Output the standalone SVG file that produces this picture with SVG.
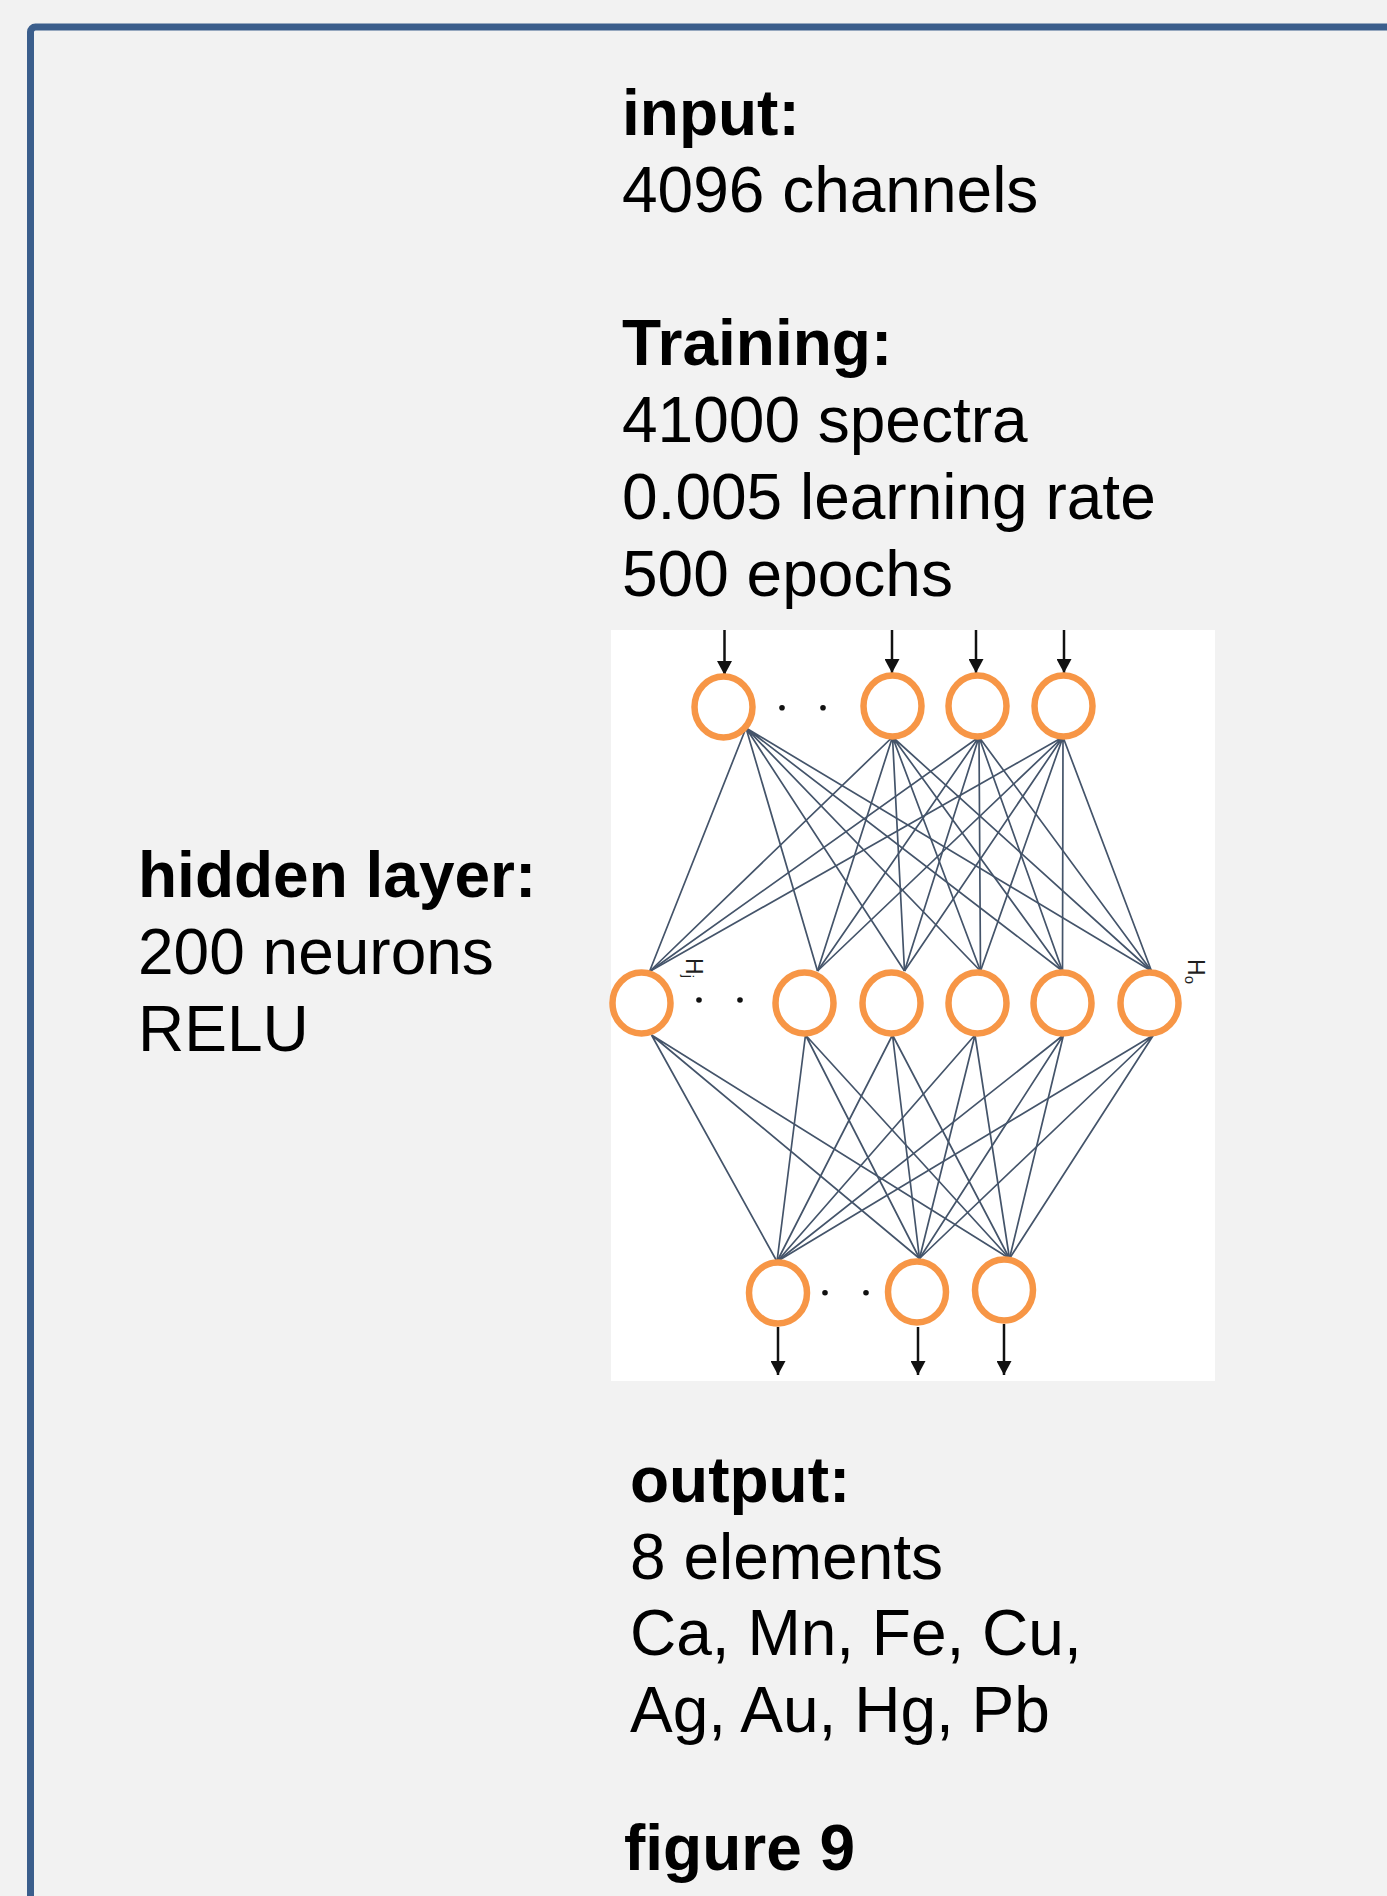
<svg xmlns="http://www.w3.org/2000/svg" width="1387" height="1896" viewBox="0 0 1387 1896">
<defs>
<style>
.t{font-family:"Liberation Sans",Arial,sans-serif;font-size:64px;fill:#000}
.b{font-weight:bold}
.n{fill:#fff;stroke:#F79646;stroke-width:6.5}
.e{stroke:#44546A;stroke-width:1.7;fill:none}
.a{stroke:#111;stroke-width:2.5;fill:none}
.d{fill:#111}
.lab{font-family:"Liberation Sans",Arial,sans-serif;font-size:23px;fill:#1f1f1f}
</style>
<marker id="arr" markerUnits="userSpaceOnUse" viewBox="0 0 14 15" markerWidth="14" markerHeight="15" refX="14" refY="7.5" orient="auto">
<path d="M0,0 L14,7.5 L0,15 Z" fill="#111"/>
</marker>
</defs>
<rect x="0" y="0" width="1387" height="1896" fill="#F2F2F2"/>
<rect x="30.5" y="27" width="1420" height="1920" rx="5" fill="none" stroke="#3B5E8C" stroke-width="7"/>

<g id="input-text">
<text class="t b" x="622" y="135">input:</text>
<text class="t" x="622" y="211.7">4096 channels</text>
</g>
<g id="training-text">
<text class="t b" x="622" y="365">Training:</text>
<text class="t" x="622" y="442">41000 spectra</text>
<text class="t" x="622" y="519">0.005 learning rate</text>
<text class="t" x="622" y="595.5">500 epochs</text>
</g>
<g id="hidden-text">
<text class="t b" x="138" y="897">hidden layer:</text>
<text class="t" x="138" y="974">200 neurons</text>
<text class="t" x="138" y="1050.7">RELU</text>
</g>
<g id="output-text">
<text class="t b" x="630" y="1501.7">output:</text>
<text class="t" x="630" y="1578.5">8 elements</text>
<text class="t" x="630" y="1655">Ca, Mn, Fe, Cu,</text>
<text class="t" x="630" y="1732">Ag, Au, Hg, Pb</text>
</g>
<g id="caption">
<text class="t b" x="624" y="1870">figure 9</text>
</g>

<rect id="network-panel" x="611" y="630" width="604" height="751" fill="#fff"/>

<g id="connectors">
<g id="input-arrows">
<line class="a" x1="724.5" y1="630" x2="724.5" y2="675" marker-end="url(#arr)"/>
<line class="a" x1="892" y1="630" x2="892" y2="673" marker-end="url(#arr)"/>
<line class="a" x1="976" y1="630" x2="976" y2="673" marker-end="url(#arr)"/>
<line class="a" x1="1064" y1="630" x2="1064" y2="673" marker-end="url(#arr)"/>
</g>
<g id="edges-input-hidden">
<path class="e" d="M746,728 L649.5,971.5 M746,728 L817.5,971 M746,728 L904.5,971 M746,728 L980.5,971 M746,728 L1062.5,971 M746,728 L1151.5,971"/>
<path class="e" d="M892.5,737 L649.5,971.5 M892.5,737 L817.5,971 M892.5,737 L904.5,971 M892.5,737 L980.5,971 M892.5,737 L1062.5,971 M892.5,737 L1151.5,971"/>
<path class="e" d="M979,737 L649.5,971.5 M979,737 L817.5,971 M979,737 L904.5,971 M979,737 L980.5,971 M979,737 L1062.5,971 M979,737 L1151.5,971"/>
<path class="e" d="M1063,737 L649.5,971.5 M1063,737 L817.5,971 M1063,737 L904.5,971 M1063,737 L980.5,971 M1063,737 L1062.5,971 M1063,737 L1151.5,971"/>
</g>
<g id="edges-hidden-output">
<path class="e" d="M651.5,1035 L777,1261.5 M651.5,1035 L919.5,1258.5 M651.5,1035 L1009.5,1258.5"/>
<path class="e" d="M805.5,1035 L777,1261.5 M805.5,1035 L919.5,1258.5 M805.5,1035 L1009.5,1258.5"/>
<path class="e" d="M892.5,1035 L777,1261.5 M892.5,1035 L919.5,1258.5 M892.5,1035 L1009.5,1258.5"/>
<path class="e" d="M975,1035 L777,1261.5 M975,1035 L919.5,1258.5 M975,1035 L1009.5,1258.5"/>
<path class="e" d="M1063.5,1035 L777,1261.5 M1063.5,1035 L919.5,1258.5 M1063.5,1035 L1009.5,1258.5"/>
<path class="e" d="M1153.5,1035 L777,1261.5 M1153.5,1035 L919.5,1258.5 M1153.5,1035 L1009.5,1258.5"/>
</g>
<g id="output-arrows">
<line class="a" x1="778" y1="1327" x2="778" y2="1375" marker-end="url(#arr)"/>
<line class="a" x1="918" y1="1327" x2="918" y2="1375" marker-end="url(#arr)"/>
<line class="a" x1="1004" y1="1324" x2="1004" y2="1375" marker-end="url(#arr)"/>
</g>
</g>

<g id="input-layer">
<g id="in1"><ellipse class="n" cx="723.5" cy="707" rx="29" ry="30.5"/></g>
<g id="in-dots"><circle class="d" cx="782" cy="707.7" r="2.8"/><circle class="d" cx="823" cy="707.7" r="2.8"/></g>
<g id="in2"><ellipse class="n" cx="892.5" cy="706" rx="29" ry="30.5"/></g>
<g id="in3"><ellipse class="n" cx="977.5" cy="706" rx="29" ry="30.5"/></g>
<g id="in4"><ellipse class="n" cx="1063.5" cy="706" rx="29" ry="30.5"/></g>
</g>
<g id="hidden-layer">
<g id="h1"><ellipse class="n" cx="641.5" cy="1003" rx="29" ry="30.5"/></g>
<g id="h-dots"><circle class="d" cx="699" cy="1000" r="2.8"/><circle class="d" cx="740" cy="1000" r="2.8"/></g>
<g id="h2"><ellipse class="n" cx="804.5" cy="1003" rx="29" ry="30.5"/></g>
<g id="h3"><ellipse class="n" cx="891.5" cy="1003" rx="29" ry="30.5"/></g>
<g id="h4"><ellipse class="n" cx="977.5" cy="1003" rx="29" ry="30.5"/></g>
<g id="h5"><ellipse class="n" cx="1062.5" cy="1003" rx="29" ry="30.5"/></g>
<g id="h6"><ellipse class="n" cx="1149.5" cy="1003" rx="29" ry="30.5"/></g>
<g id="label-hj"><text class="lab" transform="translate(686,958) rotate(90)">H<tspan font-size="15" dy="3">j</tspan></text></g>
<g id="label-ho"><text class="lab" transform="translate(1188,959) rotate(90)">H<tspan font-size="15" dy="3">o</tspan></text></g>
</g>
<g id="output-layer">
<g id="o1"><ellipse class="n" cx="778" cy="1293" rx="29" ry="30.5"/></g>
<g id="o-dots"><circle class="d" cx="825" cy="1292.7" r="2.8"/><circle class="d" cx="866" cy="1292.7" r="2.8"/></g>
<g id="o2"><ellipse class="n" cx="917" cy="1292" rx="29" ry="30.5"/></g>
<g id="o3"><ellipse class="n" cx="1004" cy="1290" rx="29" ry="30.5"/></g>
</g>
</svg>
